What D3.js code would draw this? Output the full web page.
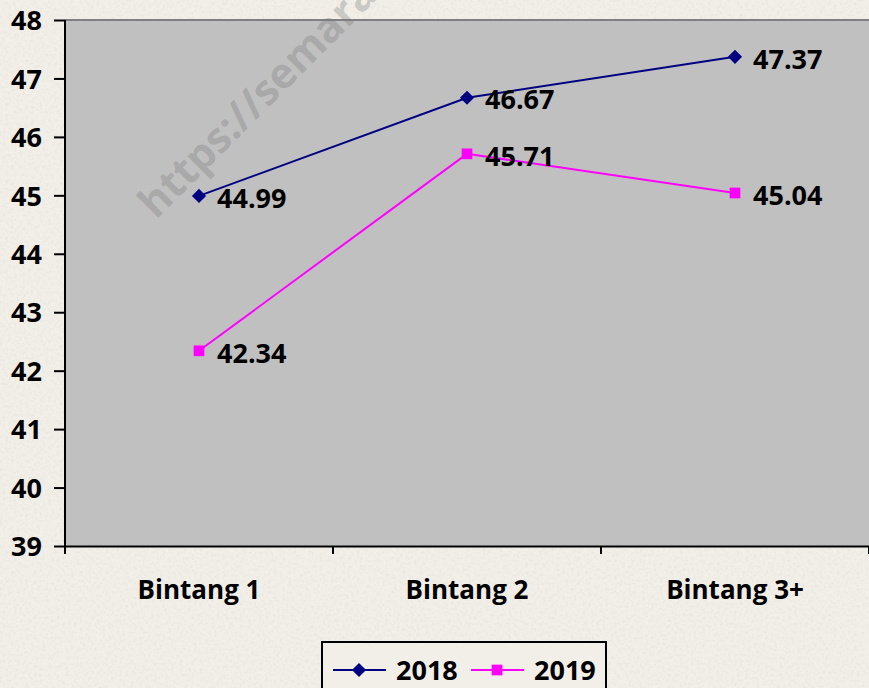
<!DOCTYPE html>
<html>
<head>
<meta charset="utf-8">
<script src="https://cdn.jsdelivr.net/npm/d3@7"></script>
<style>
  body { margin: 0; background: #f2efe8; overflow: hidden; }
  svg { display: block; font-family: "Open Sans", sans-serif; font-weight: 700; }
</style>
</head>
<body>
<div id="chartContainer"></div>
<script>
// chart data
const categories = ["Bintang 1", "Bintang 2", "Bintang 3+"];
const values2018 = [44.99, 46.67, 47.37];
const values2019 = [42.34, 45.71, 45.04];
const yTicks = [39, 40, 41, 42, 43, 44, 45, 46, 47, 48];
const seriesNames = ["2018", "2019"];

// dimensions
const W = 869, H = 688;
const margin = { top: 20, right: 0, bottom: 142, left: 65 };

const svg = d3
  .select("#chartContainer")
  .append("svg")
  .attr("width", W)
  .attr("height", H);

// paper texture background
const defs = svg.append("defs");
const noise = defs.append("filter").attr("id", "paper").attr("x", 0).attr("y", 0).attr("width", "100%").attr("height", "100%");
noise.append("feTurbulence").attr("type", "fractalNoise").attr("baseFrequency", 0.35).attr("numOctaves", 2).attr("seed", 3).attr("result", "n");
noise.append("feColorMatrix").attr("in", "n").attr("type", "matrix")
  .attr("values", "0 0 0 0 0.55  0 0 0 0 0.53  0 0 0 0 0.48  0 0 0 -1.6 0.9")
  .attr("result", "spots");
noise.append("feComposite").attr("in", "spots").attr("in2", "SourceGraphic").attr("operator", "in");

svg.append("rect").attr("width", W).attr("height", H).attr("fill", "#f2efe8");
svg.append("rect").attr("width", W).attr("height", H).attr("fill", "#f2efe8").attr("filter", "url(#paper)").attr("opacity", 0.25);

// scales
const x = d3.scaleBand().domain(categories).range([margin.left, W - margin.right]);
const y = d3.scaleLinear().domain([39, 48]).range([H - margin.bottom, margin.top]);
const cx = (d) => x(d) + x.bandwidth() / 2;

// plot area
svg.append("rect")
  .attr("x", margin.left)
  .attr("y", margin.top)
  .attr("width", W - margin.right - margin.left + 2)
  .attr("height", y(39) - margin.top)
  .attr("fill", "#c0c0c0");
svg.append("line")
  .attr("x1", margin.left).attr("x2", W)
  .attr("y1", margin.top).attr("y2", margin.top)
  .attr("stroke", "#808080").attr("stroke-width", 2);

// watermark
svg.append("text")
  .attr("transform", "translate(156,220) rotate(-45)")
  .style("font-size", "42px")
  .attr("fill", "rgba(120,120,120,0.33)")
  .text("https://semarangkota.bps.go.id");

// y axis
const yAxis = svg.append("g")
  .attr("transform", "translate(" + margin.left + ",0)")
  .call(d3.axisLeft(y).tickValues(yTicks).tickFormat(d3.format("d")).tickSize(11).tickPadding(12))
  .attr("font-family", null)
  .attr("font-size", null);
yAxis.select(".domain").attr("stroke", "#000").attr("stroke-width", 2).attr("d", "M0," + margin.top + "V" + y(39));
yAxis.selectAll(".tick line").attr("stroke", "#000").attr("stroke-width", 2);
yAxis.selectAll(".tick text").style("font-size", "27px").attr("fill", "#000").attr("dy", "0.36em");

// x axis
const xAxis = svg.append("g")
  .attr("transform", "translate(0," + y(39) + ")")
  .call(d3.axisBottom(x).tickSize(0).tickPadding(35))
  .attr("font-family", null)
  .attr("font-size", null);
xAxis.select(".domain").attr("stroke", "#000").attr("stroke-width", 2);
xAxis.selectAll(".tick text").style("font-size", "26px").attr("fill", "#000");
// ticks between categories
xAxis.selectAll(".sep")
  .data(categories.map((c) => x(c)).concat([x.range()[1]]))
  .enter()
  .append("line")
  .attr("x1", (d) => d).attr("x2", (d) => d)
  .attr("y1", 0).attr("y2", 8)
  .attr("stroke", "#000").attr("stroke-width", 2);

// series
const series = [
  { name: seriesNames[0], values: values2018, color: "#000080", symbol: d3.symbolSquare, size: 100, rot: 45 },
  { name: seriesNames[1], values: values2019, color: "#ff00ff", symbol: d3.symbolSquare, size: 115, rot: 0 },
];

const line = d3.line().x((d) => cx(d.cat)).y((d) => y(d.v));

series.forEach((s) => {
  const pts = categories.map((c, i) => ({ cat: c, v: s.values[i] }));
  svg.append("path")
    .datum(pts)
    .attr("d", line)
    .attr("fill", "none")
    .attr("stroke", s.color)
    .attr("stroke-width", 2);
  svg.selectAll(null)
    .data(pts)
    .enter()
    .append("path")
    .attr("transform", (d) => "translate(" + cx(d.cat) + "," + y(d.v) + ") rotate(" + s.rot + ")")
    .attr("d", d3.symbol().type(s.symbol).size(s.size))
    .attr("fill", s.color);
});

// data labels
series.forEach((s) => {
  svg.selectAll(null)
    .data(categories.map((c, i) => ({ cat: c, v: s.values[i] })))
    .enter()
    .append("text")
    .attr("x", (d) => cx(d.cat) + 18)
    .attr("y", (d) => y(d.v) + 2)
    .attr("dy", "0.36em")
    .style("font-size", "27px")
    .attr("fill", "#000")
    .text((d) => d3.format(".2f")(d.v));
});

// legend
const legend = svg.append("g").attr("transform", "translate(322,642)");
legend.append("rect")
  .attr("width", 284).attr("height", 60)
  .attr("fill", "#f2efe8").attr("stroke", "#000").attr("stroke-width", 2);
const legX = [11, 149];
series.forEach((s, i) => {
  const g = legend.append("g").attr("transform", "translate(" + legX[i] + ",28)");
  g.append("line").attr("x1", 0).attr("x2", 53).attr("stroke", s.color).attr("stroke-width", 2);
  g.append("path").attr("transform", "translate(26,0) rotate(" + s.rot + ")").attr("d", d3.symbol().type(s.symbol).size(s.size)).attr("fill", s.color);
  g.append("text").attr("x", 63).attr("dy", "0.36em").style("font-size", "27px").attr("fill", "#000").text(s.name);
});
</script>
</body>
</html>
